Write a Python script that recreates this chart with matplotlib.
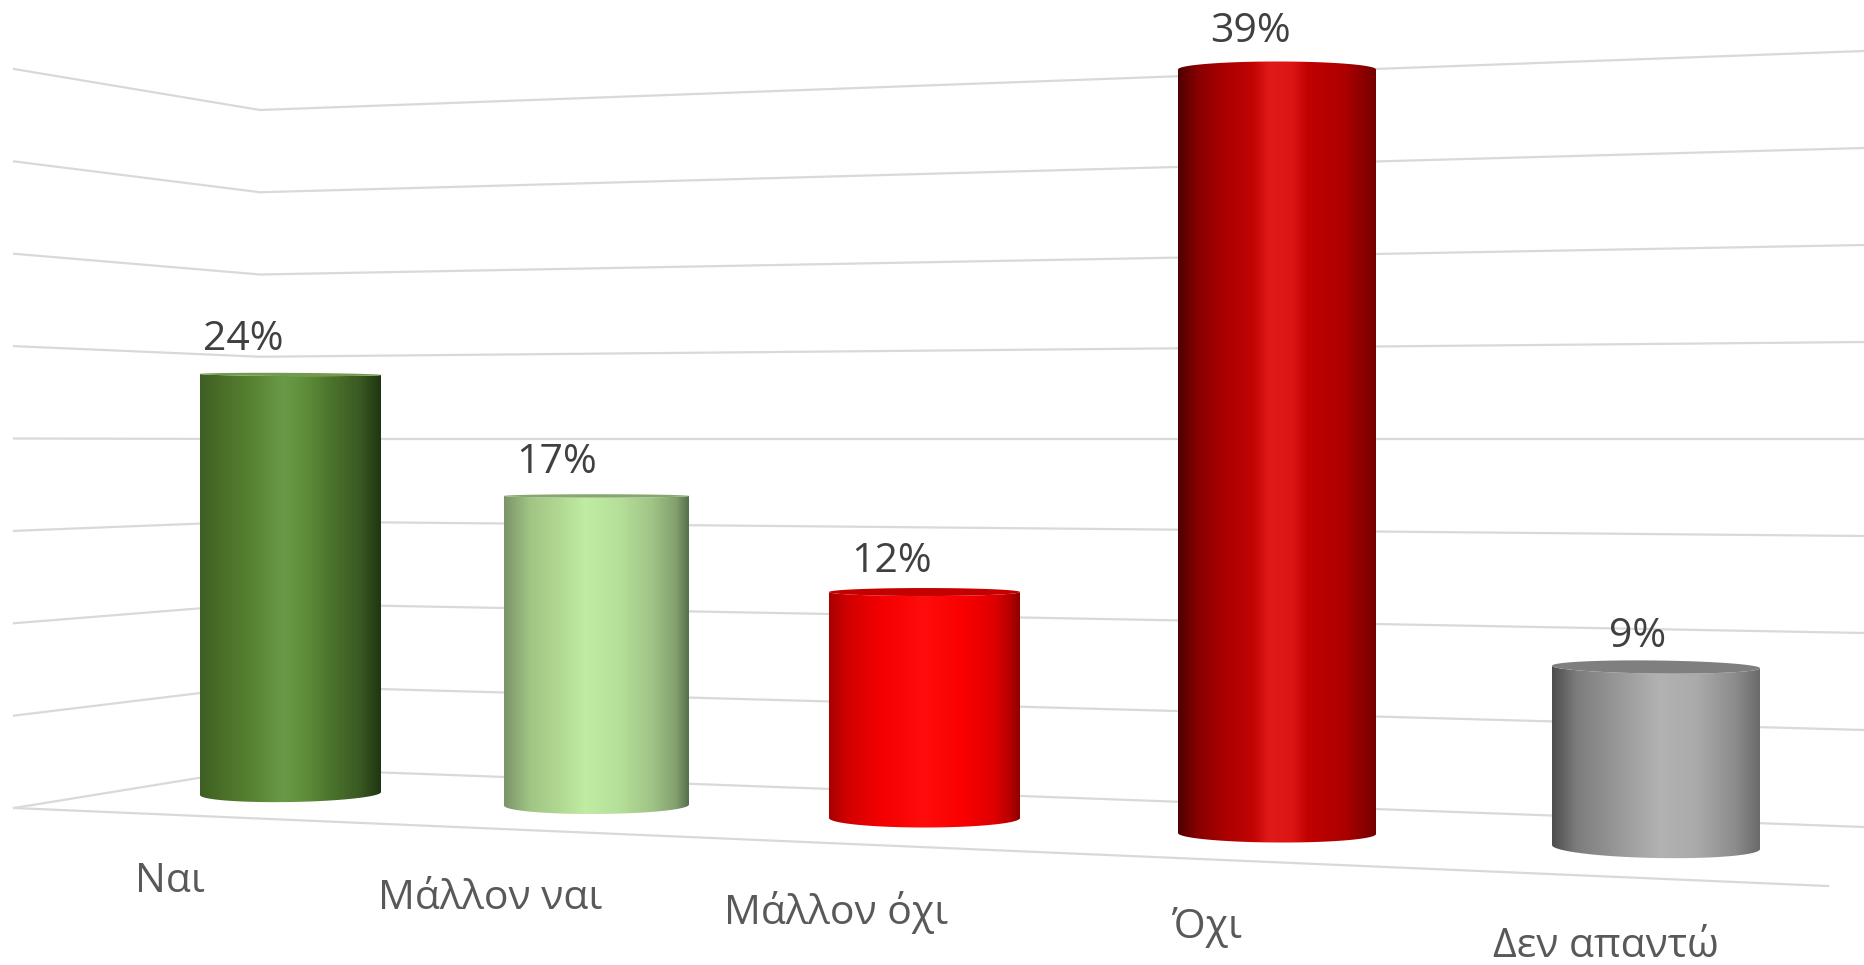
import numpy as np
import matplotlib
matplotlib.use("Agg")
import matplotlib.pyplot as plt
from matplotlib.colors import LinearSegmentedColormap
from matplotlib.patches import Polygon

# ---- data ----
categories = ["Ναι", "Μάλλον ναι", "Μάλλον όχι", "Όχι", "Δεν απαντώ"]
values = [24, 17, 12, 39, 9]
grid_levels = [0, 5, 10, 15, 20, 25, 30, 35, 40]

# ---- perspective layout of the 3-D scene (figure pixels) ----
W, H = 1864, 965
bar_left = [200, 504, 829, 1178, 1552]
bar_right = [381, 689, 1020, 1376, 1760]
bar_base = [793.5, 805, 818, 833.5, 847]       # floor contact at the bar edges
px_per_unit = [17.46, 18.18, 18.83, 19.59, 20.0]  # foreshortened value scale
base_tilt = [-3, -1, 0, 1, 4]
top_tilt = [1, 0, 0, 0, 2.5]
base_b = [8.5, 9, 9.5, 9, 11]                  # ellipse semi-minor axes
top_b = [1.6, 1.7, 4.0, 8, 6.5]
label_x = [243, 556.5, 891.5, 1250.5, 1637.5]
label_gap = [23, 21.4, 16, 19, 13.5]
cat_x = [135, 378, 724, 1172, 1493]
cat_y = [892, 909, 924, 938, 957]

# wall anchors: x, y of level 0, pixels per unit
wall_x = [14, 260, 1864]
wall_y0 = [808, 768, 827]
wall_scale = [18.475, 16.45, 19.4]
floor_front = ((14, 808), (1828, 886))

stops = [
    [(0, "#3d5f22"), (.14, "#4c7129"), (.30, "#588433"), (.46, "#6a9a49"), (.58, "#5f8e3a"),
     (.72, "#4c742c"), (.88, "#3a5a22"), (1, "#1f3512")],
    [(0, "#7a9468"), (.14, "#a1c585"), (.30, "#b1d892"), (.44, "#c0eca3"), (.62, "#b6e099"),
     (.80, "#a0c486"), (.93, "#83a06e"), (1, "#55704a")],
    [(0, "#a80000"), (.10, "#d20000"), (.28, "#f50000"), (.50, "#ff0c0c"), (.70, "#fa0000"),
     (.86, "#e00000"), (.95, "#b80000"), (1, "#8e0000")],
    [(0, "#4e0000"), (.10, "#880000"), (.24, "#ac0000"), (.38, "#c20404"), (.46, "#e01a1a"),
     (.58, "#dc1414"), (.66, "#bf0000"), (.84, "#ae0000"), (1, "#740000")],
    [(0, "#4d4d4d"), (.12, "#7d7d7d"), (.30, "#969696"), (.52, "#b2b2b2"), (.70, "#aaaaaa"),
     (.88, "#8c8c8c"), (1, "#6a6a6a")],
]
top_color = ["#74994f", "#86a870", "#c40000", None, "#7f7f7f"]

GRID = "#d9d9d9"
plt.rcParams["font.family"] = ["Open Sans", "DejaVu Sans"]

fig = plt.figure(figsize=(W / 100, H / 100), dpi=100)
ax = fig.add_axes([0, 0, 1, 1])
ax.set_xlim(0, W)
ax.set_ylim(H, 0)
ax.axis("off")

# gridlines on the two back walls
for lev in grid_levels:
    ys = [y0 - lev * s for y0, s in zip(wall_y0, wall_scale)]
    ax.plot(wall_x, ys, color=GRID, lw=1.6, zorder=1, solid_joinstyle="miter")
ax.plot(*zip(*floor_front), color=GRID, lw=1.6, zorder=1)


def cylinder(i, v):
    xl, xr = bar_left[i], bar_right[i]
    xc, a = (xl + xr) / 2, (xr - xl) / 2
    base, top = bar_base[i], bar_base[i] - v * px_per_unit[i]
    t = np.linspace(0, np.pi, 90)
    xs = xc - a * np.cos(t)
    frac = (xs - xc) / (2 * a)
    lower = base + frac * base_tilt[i] + base_b[i] * np.sin(t)
    upper_front = top + frac * top_tilt[i] + top_b[i] * np.sin(t)
    upper_back = top + frac * top_tilt[i] - top_b[i] * np.sin(t)
    body_top = upper_back if top_color[i] is None else upper_front
    body = np.vstack([np.column_stack([xs, lower]),
                      np.column_stack([xs[::-1], body_top[::-1]])])
    poly = Polygon(body, closed=True, fc="none", ec="none", transform=ax.transData)
    ax.add_patch(poly)
    cmap = LinearSegmentedColormap.from_list(f"c{i}", stops[i], N=512)
    im = ax.imshow(np.linspace(0, 1, 512)[None, :], cmap=cmap, aspect="auto", vmin=0, vmax=1,
                   extent=[xl, xr, lower.max() + 1, upper_back.min() - 1], zorder=3,
                   interpolation="bilinear")
    im.set_clip_path(poly)
    if top_color[i] is not None:
        cap = np.vstack([np.column_stack([xs, upper_back]),
                         np.column_stack([xs[::-1], upper_front[::-1]])])
        ax.add_patch(Polygon(cap, closed=True, fc=top_color[i], ec="none", zorder=4))
    return top - top_b[i]


for i, (c, v) in enumerate(zip(categories, values)):
    peak = cylinder(i, v)
    ax.text(label_x[i], peak - label_gap[i], f"{v}%", ha="center", va="baseline",
            fontsize=29.5, color="#404040", fontweight="normal", zorder=5)
    ax.text(cat_x[i], cat_y[i], c, ha="left", va="baseline",
            fontsize=29.5, color="#595959", fontweight="normal", zorder=5)

ax.set_xlim(0, W)
ax.set_ylim(H, 0)
fig.savefig("out.png", dpi=100, facecolor="white")
